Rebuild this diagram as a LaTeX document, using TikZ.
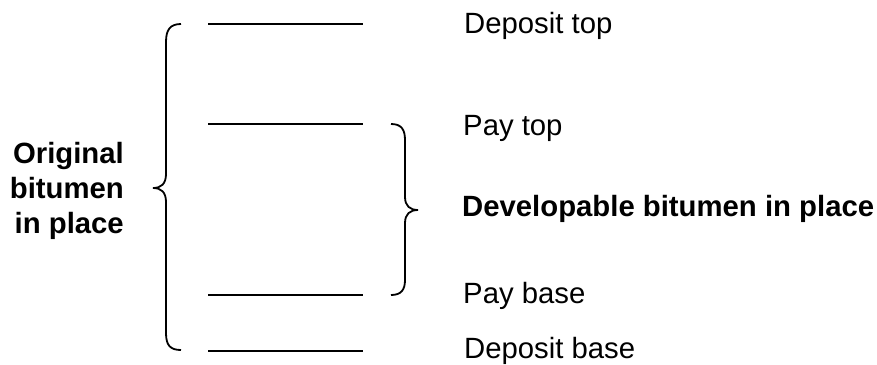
\documentclass[tikz,border=0pt]{standalone}
\usepackage{fontspec}
\setmainfont{Liberation Sans}
\begin{document}
\begin{tikzpicture}[x=1pt,y=-1pt,
  level/.style={line width=2pt,black},
  bracestyle/.style={line width=1.8pt,black},
  lbl/.style={inner sep=0pt,anchor=base west,font=\fontsize{29.3}{35}\selectfont},
  blbl/.style={inner sep=0pt,font=\bfseries\fontsize{29.3}{35}\selectfont}]
\useasboundingbox (0,0) rectangle (877,364);
% level lines
\coordinate (dt1) at (208,24);  \coordinate (dt2) at (363,24);
\coordinate (pt1) at (208,124); \coordinate (pt2) at (363,124);
\coordinate (pb1) at (208,295); \coordinate (pb2) at (363,295);
\coordinate (db1) at (208,351); \coordinate (db2) at (363,351);
\draw[level] (dt1) -- (dt2);
\draw[level] (pt1) -- (pt2);
\draw[level] (pb1) -- (pb2);
\draw[level] (db1) -- (db2);
% labels
\node[lbl] (dtop) at (464,33) {Deposit top};
\node[lbl] (ptop) at (463,135) {Pay top};
\node[lbl,blbl,anchor=base west] (dev) at (462,216) {Developable bitumen in place};
\node[lbl] (pbase) at (463,303) {Pay base};
\node[lbl] (dbase) at (464,358) {Deposit base};
\node[blbl,align=right,anchor=east] (orig) at (124,190.5) {Original\\bitumen\\in place};
% left brace
\draw[bracestyle] (181,24) .. controls (170,24) and (166,30) .. (166,42)
  -- (166,174) .. controls (166,184) and (161,188) .. (153,188)
  .. controls (161,188) and (166,192) .. (166,202)
  -- (166,333) .. controls (166,345) and (170,350) .. (181,350);
% right brace
\draw[bracestyle] (391,124) .. controls (401,124) and (405,129) .. (405,140)
  -- (405,197) .. controls (405,206) and (410,210) .. (418,210)
  .. controls (410,210) and (405,214) .. (405,223)
  -- (405,280) .. controls (405,290) and (401,295) .. (391,295);
\end{tikzpicture}
\end{document}
